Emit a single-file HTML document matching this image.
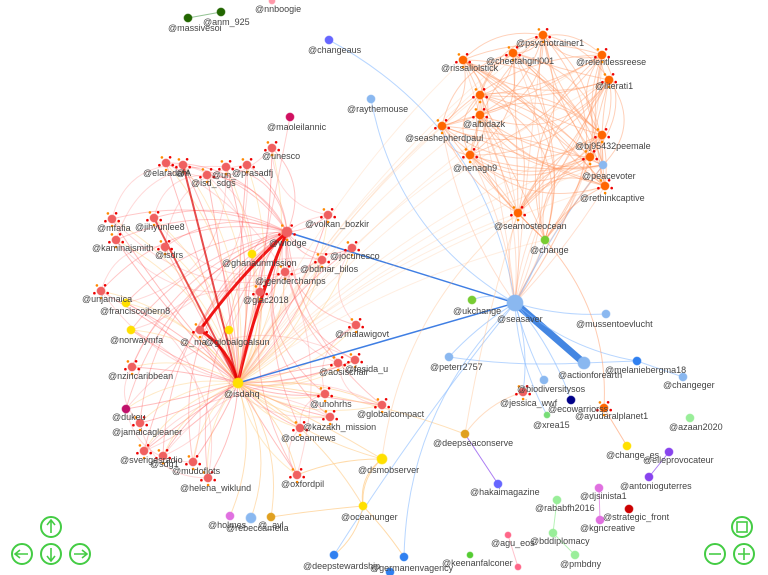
<!DOCTYPE html>
<html><head><meta charset="utf-8"><style>
html,body{margin:0;padding:0;background:#fff;width:768px;height:575px;overflow:hidden}
svg{display:block}
text{font-family:"Liberation Sans",sans-serif;font-size:9px;fill:#444}
</style></head><body>
<svg id="s" width="768" height="575" viewBox="0 0 768 575" xmlns="http://www.w3.org/2000/svg">
<g id="edges" fill="none"></g>
<g id="nodes"></g>
<g id="labels">
<text x="168" y="31">@massivesoi</text><text x="203" y="25">@anm_925</text><text x="255" y="12">@nnboogie</text>
<text x="308" y="53">@changeaus</text><text x="347" y="112">@raythemouse</text><text x="267" y="130">@maoleilannic</text>
<text x="143" y="176">@elaradahl</text><text x="176" y="176">@A</text><text x="191" y="186">@isd_sdgs</text><text x="212" y="178">@un_</text><text x="232" y="176">@prasadfj</text><text x="262" y="159">@unesco</text>
<text x="97" y="231">@mfafia</text><text x="135" y="230">@jihyunlee8</text><text x="92" y="251">@kaminajsmith</text><text x="155" y="258">@isdrs</text>
<text x="269" y="246">@wiodge</text><text x="305" y="227">@volkan_bozkir</text><text x="330" y="259">@jocunesco</text><text x="222" y="266">@ghanaunmission</text>
<text x="300" y="272">@bdmar_bilos</text><text x="255" y="284">@jgenderchamps</text><text x="82" y="302">@unjamaica</text><text x="243" y="303">@glac2018</text>
<text x="100" y="314">@franciscojbern8</text><text x="335" y="337">@malawigovt</text><text x="110" y="343">@norwaymfa</text><text x="180" y="345">@_ma</text><text x="205" y="345">@globalgoalsun</text>
<text x="319" y="375">@aosischair</text><text x="345" y="372">@fesida_u</text><text x="108" y="379">@nzincaribbean</text><text x="224" y="397">@isdahq</text>
<text x="310" y="407">@unohrhs</text><text x="357" y="417">@globalcompact</text><text x="112" y="420">@dukeu</text><text x="112" y="435">@jamaicagleaner</text>
<text x="303" y="430">@kazakh_mission</text><text x="281" y="441">@oceannews</text><text x="120" y="463">@sverigesradio</text><text x="150" y="467">@sdg1</text>
<text x="172" y="474">@mudoflots</text><text x="180" y="491">@helena_wiklund</text><text x="281" y="487">@oxfordpil</text><text x="358" y="473">@dsmobserver</text>
<text x="341" y="520">@oceanunger</text><text x="208" y="528">@holmes</text><text x="226" y="531">@rebeccamelia</text><text x="258" y="528">@_avl</text>
<text x="303" y="569">@deepstewardship</text><text x="370" y="571">@germanenvagency</text>
<text x="516" y="46">@psychotrainer1</text><text x="486" y="64">@cheetahgirl001</text><text x="441" y="71">@rissaliolstick</text><text x="576" y="65">@relentlessreese</text>
<text x="595" y="89">@literati1</text><text x="463" y="127">@albidazk</text><text x="405" y="141">@seashepherdpaul</text><text x="575" y="149">@bj95432peemale</text>
<text x="453" y="171">@nenagh9</text><text x="582" y="179">@peacevoter</text><text x="580" y="201">@rethinkcaptive</text><text x="494" y="229">@seamosteocean</text><text x="530" y="253">@change</text>
<text x="453" y="314">@ukchange</text><text x="497" y="322">@seasaver</text><text x="576" y="327">@mussentoevlucht</text><text x="430" y="370">@peterr2757</text>
<text x="558" y="378">@actionforearth</text><text x="605" y="373">@melaniebergma18</text><text x="663" y="388">@changeger</text>
<text x="517" y="392">@biodiversitysos</text><text x="500" y="406">@jessica_wwf</text><text x="548" y="412">@ecowarriorss</text><text x="575" y="419">@ayudaralplanet1</text>
<text x="533" y="428">@xrea15</text><text x="669" y="430">@azaan2020</text><text x="433" y="446">@deepseaconserve</text><text x="606" y="458">@change_es</text>
<text x="643" y="463">@elleprovocateur</text><text x="620" y="489">@antonioguterres</text><text x="470" y="495">@hakaimagazine</text><text x="580" y="499">@djsinista1</text>
<text x="535" y="511">@rababfh2016</text><text x="603" y="520">@strategic_front</text><text x="580" y="531">@kgncreative</text><text x="530" y="544">@bddiplomacy</text>
<text x="491" y="546">@agu_eos</text><text x="442" y="566">@keenanfalconer</text><text x="560" y="567">@pmbdny</text>
</g>
<g fill="#fff" stroke="#4c4" stroke-width="2">
<circle cx="51" cy="527" r="10"/><circle cx="22" cy="554" r="10"/><circle cx="51" cy="554" r="10"/><circle cx="80" cy="554" r="10"/>
<circle cx="742" cy="527" r="10"/><circle cx="715" cy="554" r="10"/><circle cx="744" cy="554" r="10"/>
</g>
<g fill="none" stroke="#4c4" stroke-width="1.6">
<path d="M51 533V521M47 525L51 520L55 525"/><path d="M51 548V560M47 556L51 561L55 556"/>
<path d="M28 554H16M20 550L15 554L20 558"/><path d="M74 554H86M82 550L87 554L82 558"/>
<rect x="737" y="522" width="10" height="10"/><path d="M709 554H721"/><path d="M738 554H750M744 548V560"/>
</g>
</svg>
<script>
var N={
isd:[238,383,'#ffe000',5],wio:[287,232,'#f06060',5],sea:[515,303,'#8ab8f0',8],act:[584,363,'#8ab8f0',6],chg:[545,240,'#7c3',4],
e1:[166,163,'#f06060',4],e2:[183,165,'#f06060',4],e3:[207,175,'#f06060',4],e4:[226,167,'#f06060',4],e5:[247,165,'#f06060',4],e6:[272,148,'#f06060',4],
mf:[112,219,'#f06060',4],ji:[154,218,'#f06060',4],ka:[116,240,'#f06060',4],is:[165,247,'#f06060',4],vb:[328,215,'#f06060',4],jo:[352,248,'#f06060',4],
gh:[252,254,'#ffe000',4],bd:[322,260,'#f06060',4],jg:[285,272,'#f06060',4],uj:[101,291,'#f06060',4],gl:[260,292,'#f06060',4],fr:[126,303,'#ffe000',4],
ma:[356,325,'#f06060',4],no:[131,330,'#ffe000',4],m_:[200,330,'#f06060',4],gg:[229,330,'#ffe000',4],ao:[338,363,'#f06060',4],fe:[355,360,'#f06060',4],
nz:[132,367,'#f06060',4],un:[325,394,'#f06060',4],r2:[330,417,'#f06060',4],gc:[382,405,'#f06060',4],du:[126,409,'#c0106a',4],jm:[140,423,'#f06060',4],
kz:[300,428,'#f06060',4],sv:[144,451,'#f06060',4],sd:[163,456,'#f06060',4],mu:[193,462,'#f06060',4],hw:[208,478,'#f06060',4],ox:[297,475,'#f06060',4],
ds:[382,459,'#ffe000',5],ou:[363,506,'#ffe000',4],hm:[230,516,'#e070e0',4],rb:[251,518,'#8ab8f0',5],av:[271,517,'#e0a020',4],
dp:[334,555,'#3080f0',4],ge:[404,557,'#3080f0',4],gb:[390,572,'#3080f0',4],
ms:[188,18,'#260',4],an:[221,12,'#260',4],nn:[272,1,'#f9a',3],ca:[329,40,'#66f',4],ra:[371,99,'#8ab8f0',4],mo:[290,117,'#d01060',4],
o1:[543,35,'#f60',4],o2:[513,53,'#f60',4],o3:[463,60,'#f60',4],o4:[602,55,'#f60',4],o5:[609,80,'#f60',4],o6:[480,115,'#f60',4],o7:[442,126,'#f60',4],
o8:[470,155,'#f60',4],o9:[602,135,'#f60',4],pv:[603,165,'#8ab8f0',4],o10:[605,186,'#f60',4],o11:[518,213,'#f60',4],o12:[480,95,'#f60',4],o13:[590,157,'#f60',4],
uk:[472,300,'#7c3',4],mv:[606,314,'#8ab8f0',4],pe:[449,357,'#8ab8f0',4],me:[637,361,'#3080f0',4],cg:[683,377,'#8ab8f0',4],bb:[544,380,'#8ab8f0',4],
bi:[523,392,'#f06060',4],ec:[571,400,'#008',4],ay:[604,408,'#f60',4],xr:[547,415,'#7d7',3],az:[690,418,'#9e9',4],dc:[465,434,'#e0a020',4],
ce:[627,446,'#ffe000',4],el:[669,452,'#84e',4],ag:[649,477,'#84e',4],hk:[498,484,'#66f',4],dj:[599,488,'#e070e0',4],rf:[557,500,'#9e9',4],
sf:[629,509,'#c00',4],kg:[600,520,'#e070e0',4],bdp:[553,533,'#9e9',4],agu:[508,535,'#f68',3],ke:[470,555,'#5c3',3],pm:[575,555,'#9e9',4],pk:[518,567,'#f68',3]
};
var E=[],s=7;function rnd(){s=(s*9301+49297)%233280;return s/233280}
function add(a,b,c,w,o,bend){E.push([a,b,c,w,o,bend==null?(rnd()-.5)*0.5:bend])}
var reds=['e1','e2','e3','e4','e5','e6','mf','ji','ka','is','vb','jo','bd','jg','uj','gl','ma','m_','ao','fe','nz','un','r2','gc','du','jm','kz','sv','sd','mu','hw','ox','gh','gg','fr','no'];
reds.forEach(function(k){add(k,'isd','#f44',1,.35,(rnd()-.5)*0.3);add(k,'wio','#f44',1,.3,-0.15-rnd()*0.25);});
reds.forEach(function(k,i){add(k,reds[(i+5)%reds.length],'#f66',1,.25,.4);add(k,'isd','#fb4',1,.3,-.2)});
['ds','ou','hm','rb','av','ox','gc','dc','ds'].forEach(function(k){add(k,'isd','#fc8',1,.6)});
add('wio','isd','#e00',3,.9,.05);add('wio','m_','#e00',3,.9,.05);add('m_','isd','#e00',3,.9,-.2);add('e2','isd','#d00',2,.7,0);add('ji','isd','#d00',2,.6,0);
add('sea','isd','#2a70e0',1.5,.9,0);add('sea','wio','#2a70e0',1.5,.9,0);add('sea','act','#3a80e0',7,.95,0);
['uk','mv','pe','me','bb','ec','bi','xr','ra','ca','chg','pv','dp','ge'].forEach(function(k){add(k,'sea','#8bf',1,.6)});
add('pe','act','#8bf',1,.6,.05);add('me','cg','#8bf',1,.6,0);add('act','me','#8bf',1,.6,0);
['ds','ou','dp','ge','av'].forEach(function(k){add(k,'ou','#fc8',1,.7)});add('ds','ou','#fc8',1,.7,.3);add('ds','ox','#fc8',1,.7,.1);
var or=['o1','o2','o3','o4','o5','o6','o7','o8','o9','pv','o10','o11','o12','o13','chg'];
or.forEach(function(a,i){or.forEach(function(b,j){if(j>i)add(a,b,'#f96',1,.45,(rnd()-.5)*0.9)})});
or.forEach(function(a){add(a,'sea','#f96',1,.3);add(a,'isd','#fb8',1,.25,.1)});
add('o11','ds','#fb8',1,.4);add('o11','dc','#fb8',1,.4);add('chg','ay','#f96',1,.5);add('ay','ce','#f96',1,.6,0);
add('dc','hk','#84e',1,.7,0);add('dc','bi','#fb8',1,.5);add('el','ag','#84e',1,.7,0);add('dj','kg','#e070e0',1,.7,0);
add('rf','bdp','#9e9',1,.7,0);add('bdp','pm','#9e9',1,.7,0);add('agu','pk','#f9a',1,.6,0);add('ms','an','#6a6',1,.7,0);add('mo','isd','#f88',1,.4,0);
var g=document.getElementById('edges'),h='';
E.forEach(function(e){var a=N[e[0]],b=N[e[1]];if(!a||!b)return;var mx=(a[0]+b[0])/2,my=(a[1]+b[1])/2,dx=b[0]-a[0],dy=b[1]-a[1];
var cx=mx-dy*e[5],cy=my+dx*e[5];h+='<path d="M'+a[0]+' '+a[1]+'Q'+cx.toFixed(1)+' '+cy.toFixed(1)+' '+b[0]+' '+b[1]+'" stroke="'+e[2]+'" stroke-width="'+e[3]+'" stroke-opacity="'+e[4]+'"/>'});
g.innerHTML=h;
var n='';for(var k in N){var v=N[k];n+='<circle cx="'+v[0]+'" cy="'+v[1]+'" r="'+v[3]+'" fill="'+v[2]+'" stroke="'+v[2]+'" stroke-opacity=".6"/>';
if(v[2]=='#f06060'||v[2]=='#f60'){for(var t=0;t<5;t++){var an=t*1.26+0.3;n+='<circle cx="'+(v[0]+Math.cos(an)*(v[3]+3)).toFixed(1)+'" cy="'+(v[1]+Math.sin(an)*(v[3]+3)).toFixed(1)+'" r="1.3" fill="'+(t%2?'#f80':'#e00')+'"/>'}}}
document.getElementById('nodes').innerHTML=n;
</script>
</body></html>
